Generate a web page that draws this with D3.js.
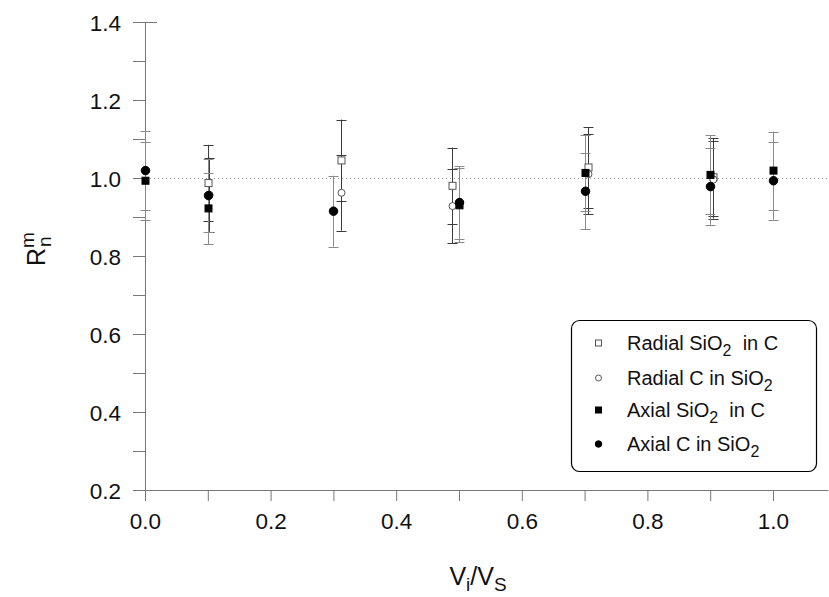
<!DOCTYPE html>
<html><head><meta charset="utf-8">
<script src="https://cdn.jsdelivr.net/npm/d3@7"></script>
<style>
body{margin:0;background:#fff;}
svg{display:block;font-family:"Liberation Sans",Arial,sans-serif;}
</style></head>
<body><svg id="chart" width="829" height="597"></svg>
<script>
// ---- data ----
const radialSiO2inC_x   = [0.101, 0.3125, 0.489, 0.705, 0.905];
const radialSiO2inC_y   = [0.987, 1.045, 0.980, 1.027, 1.002];
const radialSiO2inC_err = [0.098, 0.105, 0.098, 0.103, 0.100];

const radialCinSiO2_x   = [0.102, 0.3125, 0.489, 0.705, 0.905];
const radialCinSiO2_y   = [0.957, 0.962, 0.928, 1.010, 0.996];
const radialCinSiO2_err = [0.095, 0.097, 0.095, 0.103, 0.100];

const axialSiO2inC_x    = [0, 0.1, 0.5, 0.7, 0.9, 1.0];
const axialSiO2inC_y    = [0.993, 0.922, 0.930, 1.013, 1.008, 1.019];
const axialSiO2inC_err  = [0.100, 0.092, 0.095, 0.097, 0.101, 0.100];

const axialCinSiO2_x    = [0, 0.1, 0.3, 0.5, 0.7, 0.9, 1.0];
const axialCinSiO2_y    = [1.019, 0.955, 0.915, 0.937, 0.966, 0.978, 0.993];
const axialCinSiO2_err  = [0.102, 0.093, 0.091, 0.093, 0.097, 0.098, 0.100];

const xTicks = [0.0, 0.2, 0.4, 0.6, 0.8, 1.0];
const yTicks = [0.2, 0.4, 0.6, 0.8, 1.0, 1.2, 1.4];
const referenceLine = 1.0;

// ---- setup ----
const svg = d3.select("#chart");
const x = d3.scaleLinear().domain([0, 1]).range([145, 773]);
const xMax = 1.088;
const y = d3.scaleLinear().domain([0.2, 1.4]).range([490, 22]);
const axisColor = "#777";
const tickFont = 22.5;

function zip(xs, ys, es){ return xs.map((v,i)=>({x:v, y:ys[i], e:es[i]})); }
const series = [
  {name:"rs", data:zip(radialSiO2inC_x, radialSiO2inC_y, radialSiO2inC_err), shape:"square", filled:false, bar:"#3a3a3a"},
  {name:"rc", data:zip(radialCinSiO2_x, radialCinSiO2_y, radialCinSiO2_err), shape:"circle", filled:false, bar:"#3a3a3a"},
  {name:"as", data:zip(axialSiO2inC_x, axialSiO2inC_y, axialSiO2inC_err), shape:"square", filled:true, bar:"#8a8a8a"},
  {name:"ac", data:zip(axialCinSiO2_x, axialCinSiO2_y, axialCinSiO2_err), shape:"circle", filled:true, bar:"#8a8a8a"}
];

// ---- axes ----
const yMinor = d3.range(0.3, 1.4, 0.2);
const xMinor = [0.1,0.3,0.5,0.7,0.9];
const xAxis = d3.axisBottom(x).tickValues(xTicks).tickFormat(d3.format(".1f")).tickSize(11).tickSizeOuter(0);
const gx = svg.append("g").attr("transform","translate(0,490)").call(xAxis);
gx.select(".domain").remove();
gx.append("line").attr("x1",x(0)).attr("x2",x(xMax)).attr("y1",0.5).attr("y2",0.5).attr("stroke",axisColor);
gx.selectAll(".tick line").attr("stroke",axisColor);
gx.selectAll(".tick text").attr("font-size",tickFont).attr("fill","#111").attr("font-family","Liberation Sans, Arial, sans-serif").attr("dy","0").attr("y",39);
gx.selectAll(".minor").data(xMinor).enter().append("line")
  .attr("x1",d=>x(d)+0.5).attr("x2",d=>x(d)+0.5).attr("y1",0).attr("y2",11).attr("stroke",axisColor);

const yAxis = d3.axisLeft(y).tickValues(yTicks).tickFormat(d3.format(".1f")).tickSize(12).tickSizeOuter(0);
const gy = svg.append("g").attr("transform","translate(145,0)").call(yAxis);
gy.select(".domain").remove();
gy.append("line").attr("x1",0.5).attr("x2",0.5).attr("y1",y(1.4)).attr("y2",y(0.2)).attr("stroke",axisColor);
gy.selectAll(".tick line").attr("stroke",axisColor);
gy.selectAll(".tick text").attr("font-size",tickFont).attr("fill","#111").attr("font-family","Liberation Sans, Arial, sans-serif").attr("x",-24).attr("dy","0.36em");
gy.selectAll(".minor").data(yMinor).enter().append("line")
  .attr("x1",-12).attr("x2",0).attr("y1",d=>y(d)+0.5).attr("y2",d=>y(d)+0.5).attr("stroke",axisColor);
gy.append("line").attr("x1",0).attr("x2",12).attr("y1",y(1.4)+0.5).attr("y2",y(1.4)+0.5).attr("stroke",axisColor);

// reference dotted line
svg.append("line").attr("x1",x(0)+1).attr("x2",x(xMax)).attr("y1",y(referenceLine)+0.5).attr("y2",y(referenceLine)+0.5)
  .attr("stroke","#999").attr("stroke-dasharray","1,3");

// ---- error bars ----
const capW = 5;
series.forEach(s=>{
  const g = svg.append("g");
  s.data.forEach(d=>{
    const cx = Math.round(x(d.x))+0.5;
    g.append("line").attr("x1",cx).attr("x2",cx).attr("y1",y(d.y+d.e)).attr("y2",y(d.y-d.e)).attr("stroke",s.bar);
    [d.y+d.e, d.y-d.e].forEach(v=>{
      g.append("line").attr("x1",cx-capW).attr("x2",cx+capW).attr("y1",Math.round(y(v))+0.5).attr("y2",Math.round(y(v))+0.5).attr("stroke",s.bar);
    });
  });
});

// ---- markers ----
function drawMarker(g, shape, filled, cx, cy, size){
  if(shape==="square"){
    g.append("rect").attr("x",cx-size/2).attr("y",cy-size/2).attr("width",size).attr("height",size)
      .attr("fill",filled?"#000":"#fff").attr("stroke",filled?"#000":"#555").attr("stroke-width",1);
  } else {
    g.append("circle").attr("cx",cx).attr("cy",cy).attr("r",size/2)
      .attr("fill",filled?"#000":"#fff").attr("stroke",filled?"#000":"#555").attr("stroke-width",1);
  }
}
series.forEach(s=>{
  const g = svg.append("g");
  const sz = s.shape==="circle" ? (s.filled?8.5:7) : (s.filled?7:7);
  s.data.forEach(d=>drawMarker(g, s.shape, s.filled, Math.round(x(d.x))+0.5, y(d.y), sz));
});

// ---- legend ----
const lg = svg.append("g");
lg.append("rect").attr("x",571.5).attr("y",320.5).attr("width",245).attr("height",151).attr("rx",8)
  .attr("fill","#fff").attr("stroke","#000").attr("stroke-width",1.2);
const legendItems = [
  {shape:"square", filled:false, parts:[["Radial SiO",0],["2",1],["  in C",0]]},
  {shape:"circle", filled:false, parts:[["Radial C in SiO",0],["2",1]]},
  {shape:"square", filled:true,  parts:[["Axial SiO",0],["2",1],["  in C",0]]},
  {shape:"circle", filled:true,  parts:[["Axial C in SiO",0],["2",1]]}
];
const rowsY = [343, 378, 410, 444];
legendItems.forEach((it,i)=>{
  const cy = rowsY[i];
  drawMarker(lg, it.shape, it.filled, 598.5, cy, it.shape==="circle"?(it.filled?6.5:6):6);
  const t = lg.append("text").attr("x",627).attr("y",cy+7).attr("font-size",20).attr("fill","#111")
    .attr("xml:space","preserve").style("white-space","pre");
  it.parts.forEach(([txt,sub])=>{
    if(sub){
      t.append("tspan").attr("dy",6).attr("font-size",16).text(txt);
    } else {
      const ts = t.append("tspan").text(txt);
      if(t.selectAll("tspan").size()>1) ts.attr("dy",-6);
    }
  });
});

// ---- axis titles ----
const xt = svg.append("text").attr("x",478).attr("y",585).attr("text-anchor","middle").attr("font-size",25).attr("fill","#111");
xt.append("tspan").text("V");
xt.append("tspan").attr("font-size",19).attr("dy",6).text("i");
xt.append("tspan").attr("dy",-6).text("/V");
xt.append("tspan").attr("font-size",19).attr("dy",6).text("S");

const yt = svg.append("g").attr("transform","translate(45,266) rotate(-90)");
yt.append("text").attr("x",0).attr("y",0).attr("font-size",25).attr("fill","#111").text("R");
yt.append("text").attr("x",18).attr("y",-11).attr("font-size",19).attr("fill","#111").text("m");
yt.append("text").attr("x",19).attr("y",6).attr("font-size",19).attr("fill","#111").text("n");
</script></body></html>
